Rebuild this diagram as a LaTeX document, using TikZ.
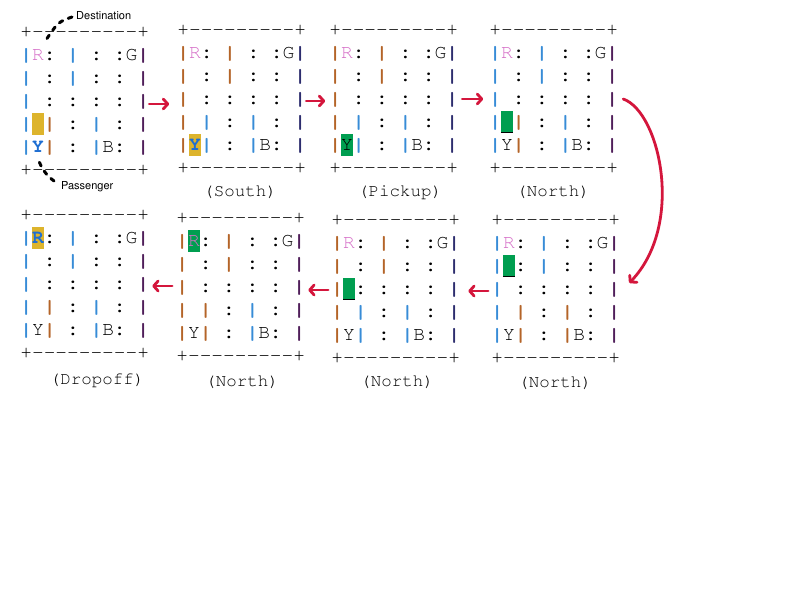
\documentclass[tikz,border=0pt]{standalone}
\usepackage[T1]{fontenc}
\usetikzlibrary{arrows.meta,calc}
\definecolor{rpink}{RGB}{214,112,200}
\definecolor{pblue}{RGB}{30,110,210}
\definecolor{taxiy}{RGB}{221,180,44}
\definecolor{taxig}{RGB}{0,158,80}
\definecolor{barbrown}{RGB}{180,100,40}
\definecolor{barblue}{RGB}{55,140,215}
\definecolor{barpurple}{RGB}{80,30,90}
\definecolor{bardark}{RGB}{45,45,110}
\definecolor{arrred}{RGB}{212,22,60}
\newcommand\setbars[5]{\def\cA{#1}\def\cB{#2}\def\cC{#3}\def\cD{#4}\def\cE{#5}}
\newcommand\bA{\textcolor{\cA}{\bfseries|}}
\newcommand\bB{\textcolor{\cB}{\bfseries|}}
\newcommand\bC{\textcolor{\cC}{\bfseries|}}
\newcommand\bD{\textcolor{\cD}{\bfseries|}}
\newcommand\bE{\textcolor{\cE}{\bfseries|}}
\newcommand\cl{{\bfseries :}}
\newcommand\Rd{\textcolor{rpink}{R}}
\newcommand\Rb{\textcolor{pblue}{\bfseries R}}
\newcommand\Yp{\textcolor{pblue}{\bfseries Y}}
\newcommand\cellhl[5]{\fill[#1] ({#2+11.7*#4-5.85},{#3+23*#5-11}) rectangle ++(11.7,22);}
\newcommand\cellul[4]{\draw[line width=1.1pt] ({#1+11.7*#3-5.85},{#2+23*#4+10.4}) -- ++(11.7,0);}
\newcommand\taxigrid[5]{%
\node[mono] (#1r0) at ({#2-5.85},{#3+5.5}) {+-{}-{}-{}-{}-{}-{}-{}-{}-+};
\node[mono] (#1r1) at ({#2-5.85},{#3+28.5}) {\frenchspacing\bA#4\cl~\bC~\cl~\cl G\bE};
\node[mono] (#1r2) at ({#2-5.85},{#3+51.5}) {\frenchspacing\bA~\cl~\bC~\cl~\cl~\bE};
\node[mono] (#1r3) at ({#2-5.85},{#3+74.5}) {\frenchspacing\bA~\cl~\cl~\cl~\cl~\bE};
\node[mono] (#1r4) at ({#2-5.85},{#3+97.5}) {\frenchspacing\bA~\bB~\cl~\bD~\cl~\bE};
\node[mono] (#1r5) at ({#2-5.85},{#3+120.5}) {\frenchspacing\bA#5\bB~\cl~\bD B\cl~\bE};
\node[mono] (#1r6) at ({#2-5.85},{#3+143.5}) {+-{}-{}-{}-{}-{}-{}-{}-{}-+};
}
\tikzset{
  mono/.style={anchor=base west, inner sep=0pt, font=\fontfamily{pcr}\fontsize{19.5}{23}\selectfont},
  steplabel/.style={anchor=center, inner sep=0pt, font=\fontfamily{pcr}\fontsize{17.5}{20}\selectfont},
  calloutlabel/.style={anchor=west, inner sep=0pt, font=\fontfamily{phv}\fontsize{11}{13}\selectfont},
  callout/.style={draw=black, line width=3pt, line cap=round, dash pattern=on 4pt off 6pt},
  redarr/.style={draw=arrred, line width=2.8pt, line cap=round, line join=round, -{Straight Barb[length=4.5pt,width=10pt,round]}}
}
\begin{document}
\begin{tikzpicture}[x=1pt,y=-1pt]
\fill[white] (0,0) rectangle (800,600);
\useasboundingbox (0,0) rectangle (800,600);
% highlights
\cellhl{taxiy}{26}{32}{1}{4}
\cellhl{taxiy}{183}{30}{1}{5}
\cellhl{taxig}{335}{30}{1}{5}
\cellhl{taxig}{495}{30}{1}{4}
\cellul{495}{30}{1}{4}
\cellhl{taxiy}{26}{215}{1}{1}
\cellhl{taxig}{182}{218}{1}{1}
\cellhl{taxig}{337}{220}{1}{3}
\cellul{337}{220}{1}{3}
\cellhl{taxig}{497}{220}{1}{2}
\cellul{497}{220}{1}{2}
% grids
\setbars{barblue}{barbrown}{barblue}{barblue}{barpurple}
\taxigrid{g1}{26}{32}{\Rd}{\Yp}
\setbars{barbrown}{barblue}{barbrown}{barblue}{bardark}
\taxigrid{g2}{183}{30}{\Rd}{\Yp}
\setbars{barbrown}{barblue}{barbrown}{barblue}{bardark}
\taxigrid{g3}{335}{30}{\Rd}{Y}
\setbars{barblue}{barbrown}{barblue}{barblue}{barpurple}
\taxigrid{g4}{495}{30}{\Rd}{Y}
\setbars{barblue}{barbrown}{barblue}{barblue}{barpurple}
\taxigrid{g5}{26}{215}{\Rb}{Y}
\setbars{barbrown}{barbrown}{barbrown}{barblue}{barpurple}
\taxigrid{g6}{182}{218}{\Rd}{Y}
\setbars{barbrown}{barblue}{barbrown}{barblue}{bardark}
\taxigrid{g7}{337}{220}{\Rd}{Y}
\setbars{barblue}{barbrown}{barblue}{barbrown}{barpurple}
\taxigrid{g8}{497}{220}{\Rd}{Y}
% step labels
\node[steplabel] (l2) at (240,192) {(South)};
\node[steplabel] (l3) at (400,192) {(Pickup)};
\node[steplabel] (l4) at (553,192) {(North)};
\node[steplabel] (l5) at (97,380) {(Dropof{}f)};
\node[steplabel] (l6) at (242,382) {(North)};
\node[steplabel] (l7) at (397,382) {(North)};
\node[steplabel] (l8) at (555,383) {(North)};
% callouts
\node[calloutlabel] (dest) at (76,16) {Destination};
\node[calloutlabel] (pass) at (61,187) {Passenger};
\coordinate (destend) at (44,43);
\coordinate (passend) at (38,159);
\draw[callout] ([xshift=-4pt,yshift=-1pt]dest.west) .. controls (58,22) .. (destend);
\draw[callout] ([xshift=-7pt,yshift=6pt]pass.west) .. controls (46,175) and (42,169) .. (passend);
% arrows
\draw[redarr] ([yshift=2.5pt]g1r3.base east) -- ([xshift=-8pt,yshift=0.5pt]g2r3.base west);
\draw[redarr] ([yshift=3.5pt]g2r3.base east) -- ([xshift=-4pt,yshift=3.5pt]g3r3.base west);
\draw[redarr] ([xshift=4pt,yshift=5.5pt]g3r3.base east) -- ([xshift=-6pt,yshift=5.5pt]g4r3.base west);
\draw[redarr] ([xshift=5pt,yshift=5.5pt]g4r3.base east) .. controls (660,112) and (685,225) .. ([xshift=9pt,yshift=11.5pt]g8r3.base east);
\draw[redarr] ([xshift=-3pt,yshift=3.5pt]g8r3.base west) -- ([xshift=8pt,yshift=3.5pt]g7r3.base east);
\draw[redarr] ([xshift=-3pt,yshift=4.5pt]g7r3.base west) -- ([xshift=3pt,yshift=2.5pt]g6r3.base east);
\draw[redarr] ([xshift=-4pt,yshift=6.5pt]g6r3.base west) -- ([xshift=3pt,yshift=3.5pt]g5r3.base east);
\end{tikzpicture}
\end{document}
